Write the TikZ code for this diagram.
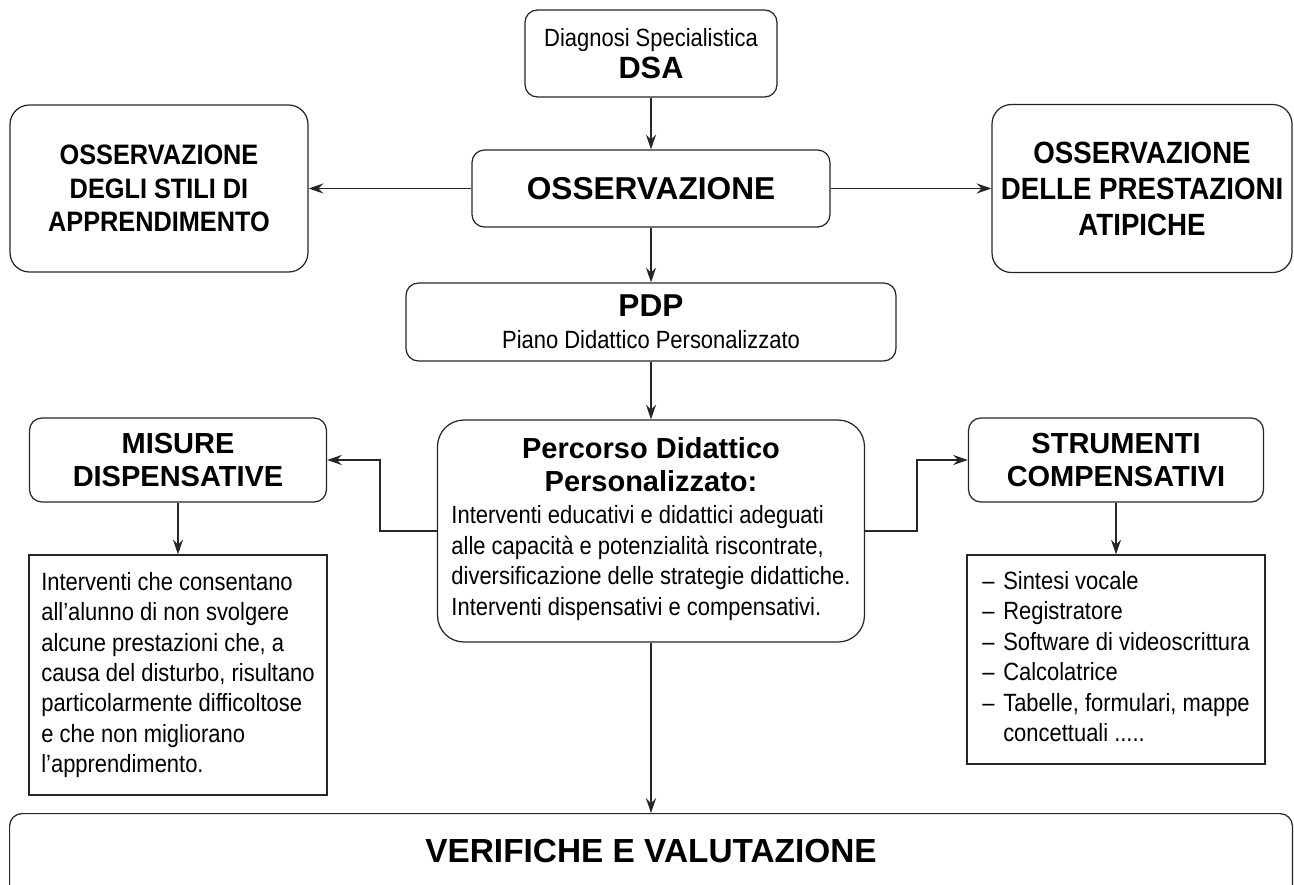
\documentclass[tikz,border=0pt]{standalone}
\usepackage{fontspec}
\setmainfont{Liberation Sans}
\newfontfamily\condfont{Liberation Sans}[FakeStretch=0.9]
\newfontfamily\narrowfont{Liberation Sans}[FakeStretch=0.88]
\usetikzlibrary{arrows.meta}

\begin{document}
\begin{tikzpicture}[x=0.02cm,y=-0.02cm,
  rbox/.style={draw=black!85,line width=0.7pt,rounded corners=7pt,align=center,inner sep=0pt},
  sbox/.style={draw=black!85,line width=0.7pt,align=left,inner sep=0pt},
  arr/.style={draw=black!85,line width=0.7pt,-{Stealth[length=8.5pt,width=5.8pt,inset=3pt]}},
  body/.style={font=\narrowfont\fontsize{14.2}{17.3}\selectfont},
  head/.style={font=\fontsize{16.5}{18.5}\selectfont\bfseries},
  obshead/.style={font=\condfont\fontsize{16}{19}\selectfont\bfseries}]
\useasboundingbox (0,0) rectangle (1294,885);
\clip (0,0) rectangle (1294,885);
% top row
\node[rbox,minimum width=5.04cm,minimum height=1.74cm,body] (dsa) at (651,53.5) {Diagnosi Specialistica\\[1pt]{\rmfamily\fontsize{17.5}{19}\selectfont\bfseries DSA}};
\node[rbox,minimum width=7.16cm,minimum height=1.54cm,font=\fontsize{18}{20}\selectfont\bfseries] (obs) at (651,188.5) {OSSERVAZIONE};
\node[rbox,rounded corners=11pt,minimum width=5.96cm,minimum height=3.34cm,obshead] (stili) at (159,188.5) {OSSERVAZIONE\\DEGLI STILI DI\\APPRENDIMENTO};
\node[rbox,rounded corners=11pt,minimum width=6.0cm,minimum height=3.36cm,obshead,font=\condfont\fontsize{17.5}{20.5}\selectfont\bfseries] (atip) at (1142,188.5) {OSSERVAZIONE\\DELLE PRESTAZIONI\\ATIPICHE};
\node[rbox,minimum width=9.8cm,minimum height=1.56cm,body] (pdp) at (651,322) {{\rmfamily\fontsize{18}{20}\selectfont\bfseries PDP}\\[1pt]Piano Didattico Personalizzato};
% middle row
\node[rbox,rounded corners=15pt,minimum width=8.54cm,minimum height=4.44cm,head] (perc) at (651,531) {Percorso Didattico\\Personalizzato:\\{\narrowfont\fontsize{14.2}{17.3}\selectfont\mdseries\begin{tabular}[t]{@{}l@{}}Interventi educativi e didattici adeguati\\alle capacità e potenzialità riscontrate,\\diversificazione delle strategie didattiche.\\Interventi dispensativi e compensativi.\end{tabular}}};
\node[rbox,minimum width=5.94cm,minimum height=1.68cm,head] (mis) at (178,460) {MISURE\\DISPENSATIVE};
\node[rbox,minimum width=5.9cm,minimum height=1.68cm,head] (stru) at (1116,460) {STRUMENTI\\COMPENSATIVI};
\node[sbox,minimum width=5.96cm,minimum height=4.8cm,body] (mistxt) at (178,675) {Interventi che consentano\\all’alunno di non svolgere\\alcune prestazioni che, a\\causa del disturbo, risultano\\particolarmente difficoltose\\e che non migliorano\\l’apprendimento.};
\node[sbox,minimum width=5.96cm,minimum height=4.18cm,body] (strutxt) at (1116,659.5) {\begin{tabular}{@{}l@{\hspace{5pt}}l@{}}–&Sintesi vocale\\–&Registratore\\–&Software di videoscrittura\\–&Calcolatrice\\–&Tabelle, formulari, mappe\\&concettuali .....\end{tabular}};
% bottom
\node[rbox,anchor=north,minimum width=25.66cm,text height=0.98cm,text depth=2cm,font=\fontsize{19}{21}\selectfont\bfseries] (verif) at (651,813) {VERIFICHE E VALUTAZIONE};
% connectors
\draw[arr] (dsa.south) -- (obs.north);
\draw[arr] (obs.west) -- (stili.east);
\draw[arr] (obs.east) -- (atip.west);
\draw[arr] (obs.south) -- (pdp.north);
\draw[arr] (pdp.south) -- (perc.north);
\draw[arr] (perc.west) -- ++(-57,0) |- (mis.east);
\draw[arr] (perc.east) -- ++(52,0) |- (stru.west);
\draw[arr] (mis.south) -- (mistxt.north);
\draw[arr] (stru.south) -- (strutxt.north);
\draw[arr] (perc.south) -- (verif.north);
\end{tikzpicture}
\end{document}
